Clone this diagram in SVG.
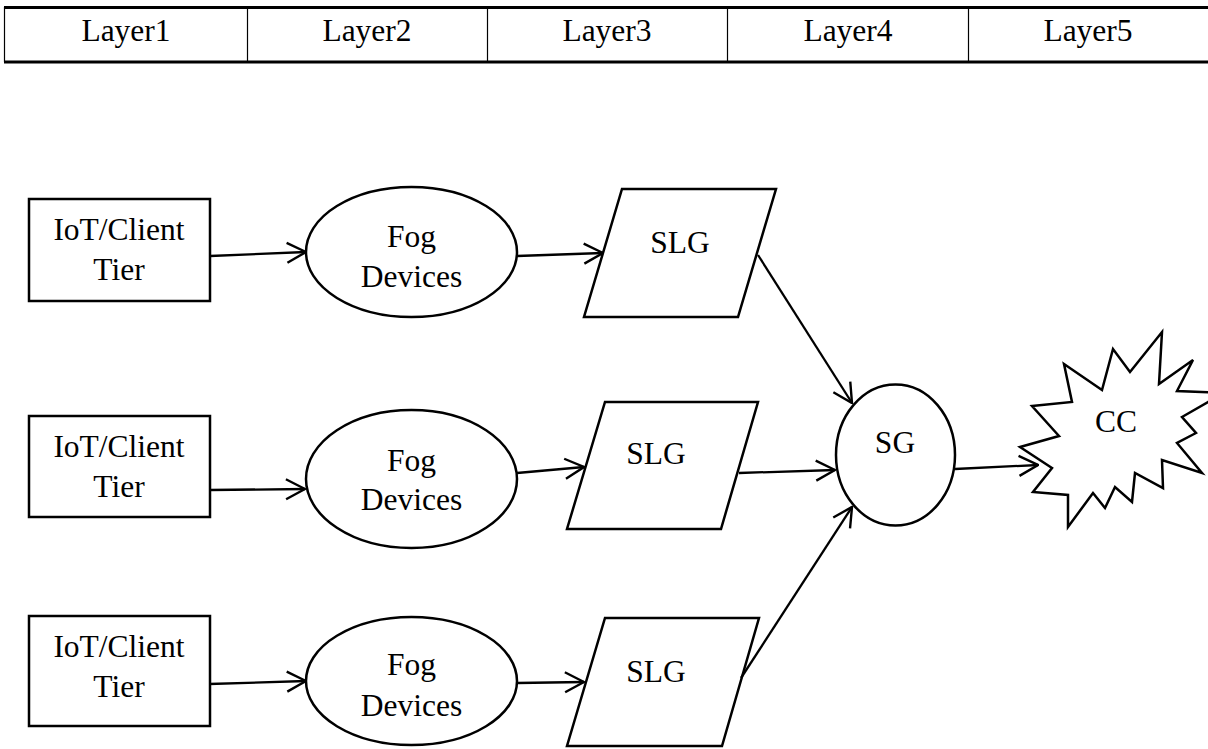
<svg xmlns="http://www.w3.org/2000/svg" width="1208" height="749" viewBox="0 0 1208 749">
<defs>
<marker id="arr" viewBox="0 0 22 24" refX="21" refY="12" markerWidth="22" markerHeight="24" markerUnits="userSpaceOnUse" orient="auto">
<path d="M2,2 L21,12 L2,22" fill="none" stroke="#000" stroke-width="2.4"/>
</marker>
<style>
.s{fill:#fff;stroke:#000;stroke-width:2.5}
.t{font-family:"Liberation Serif","Times New Roman",serif;font-size:31.5px;fill:#000;text-anchor:middle}
.c{fill:none;stroke:#000;stroke-width:2.3;marker-end:url(#arr)}
.tl{stroke:#000;stroke-width:2.8}
.td{stroke:#000;stroke-width:1.2}
</style>
</defs>
<rect width="1208" height="749" fill="#fff"/>
<g id="layers">
<line class="tl" x1="4" y1="7.5" x2="1208" y2="7.5"/>
<line class="tl" x1="4" y1="62" x2="1208" y2="62"/>
<line class="td" x1="4.5" y1="7" x2="4.5" y2="62"/>
<line class="td" x1="247.5" y1="7" x2="247.5" y2="62"/>
<line class="td" x1="487.5" y1="7" x2="487.5" y2="62"/>
<line class="td" x1="727.5" y1="7" x2="727.5" y2="62"/>
<line class="td" x1="968.5" y1="7" x2="968.5" y2="62"/>
<text class="t" x="126" y="41">Layer1</text>
<text class="t" x="367" y="41">Layer2</text>
<text class="t" x="607" y="41">Layer3</text>
<text class="t" x="848" y="41">Layer4</text>
<text class="t" x="1088" y="41">Layer5</text>
</g>
<g id="iot1"><rect class="s" x="29" y="199" width="181" height="102"/><text class="t" x="119" y="240">IoT/Client</text><text class="t" x="119" y="280">Tier</text></g>
<g id="iot2"><rect class="s" x="29" y="416" width="181" height="101"/><text class="t" x="119" y="457">IoT/Client</text><text class="t" x="119" y="497">Tier</text></g>
<g id="iot3"><rect class="s" x="29" y="616" width="181" height="110"/><text class="t" x="119" y="657">IoT/Client</text><text class="t" x="119" y="697">Tier</text></g>
<g id="fog1"><ellipse class="s" cx="411.5" cy="252" rx="105.5" ry="65"/><text class="t" x="411.5" y="247">Fog</text><text class="t" x="411.5" y="287">Devices</text></g>
<g id="fog2"><ellipse class="s" cx="411.5" cy="479" rx="105.5" ry="69"/><text class="t" x="411.5" y="471">Fog</text><text class="t" x="411.5" y="510">Devices</text></g>
<g id="fog3"><ellipse class="s" cx="411.5" cy="681" rx="105.5" ry="64"/><text class="t" x="411.5" y="675">Fog</text><text class="t" x="411.5" y="716">Devices</text></g>
<g id="slg1"><polygon class="s" points="622,189 776,189 738,317 584,317"/><text class="t" x="680" y="253">SLG</text></g>
<g id="slg2"><polygon class="s" points="605,402 758,402 721,529 567,529"/><text class="t" x="656" y="464">SLG</text></g>
<g id="slg3"><polygon class="s" points="605,618 759,618 722,746 567,746"/><text class="t" x="656" y="682">SLG</text></g>
<g id="sg"><ellipse class="s" cx="895.5" cy="455" rx="59.5" ry="70.5"/><text class="t" x="895" y="453">SG</text></g>
<g id="cc"><polygon class="s" points="1020,447 1059,436 1032,406 1072,402 1064,364 1102,390 1113,349 1130,372 1162,332 1159,384 1193,360 1177,391 1225,393 1208,402 1182,417 1196,433 1177,443 1202,473 1162,460 1163,488 1135,473 1132,502 1115,487 1105,508 1093,493 1068,527 1068,495 1033,492 1052,468"/><text class="t" x="1116" y="432">CC</text></g>
<g id="connectors">
<line class="c" x1="210" y1="256" x2="306" y2="252"/>
<line class="c" x1="210" y1="490" x2="305" y2="489"/>
<line class="c" x1="209" y1="684" x2="306" y2="681"/>
<line class="c" x1="517" y1="256" x2="603" y2="253"/>
<line class="c" x1="517" y1="473" x2="584" y2="467"/>
<line class="c" x1="517" y1="683" x2="584" y2="682"/>
<line class="c" x1="758" y1="255" x2="852" y2="403"/>
<line class="c" x1="739" y1="473" x2="835" y2="470"/>
<line class="c" x1="741" y1="678" x2="852" y2="507"/>
<line class="c" x1="955" y1="469" x2="1038" y2="465"/>
</g>
</svg>
